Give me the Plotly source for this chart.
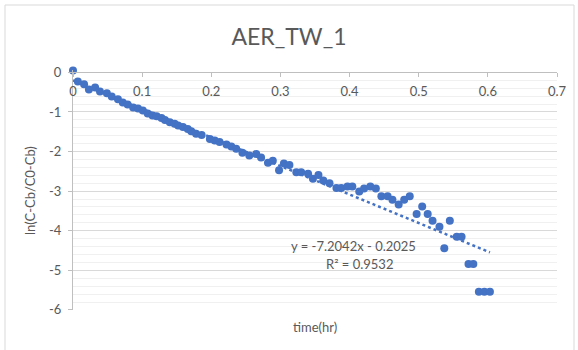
import plotly.graph_objects as go

# ---- data ----
time_hr = [0.000, 0.007, 0.016, 0.023, 0.032, 0.039, 0.049, 0.056, 0.065, 0.072,
           0.079, 0.087, 0.094, 0.101, 0.108, 0.115,
           0.121, 0.128, 0.133, 0.140, 0.147, 0.152, 0.159, 0.166, 0.171, 0.178,
           0.186, 0.198, 0.205, 0.212, 0.222, 0.229,
           0.236, 0.245, 0.255, 0.265, 0.272, 0.282, 0.289, 0.298, 0.305, 0.313,
           0.323, 0.330, 0.340, 0.347, 0.355, 0.362, 0.371, 0.381, 0.388, 0.397,
           0.404, 0.414, 0.421, 0.430, 0.438, 0.446, 0.455, 0.462, 0.471, 0.479,
           0.487, 0.497, 0.505, 0.513, 0.520, 0.530, 0.537, 0.545, 0.555, 0.562,
           0.572, 0.579, 0.587, 0.595, 0.603]
ln_ratio = [0.05, -0.23, -0.30, -0.43, -0.38, -0.48, -0.53, -0.61, -0.68, -0.76,
            -0.81, -0.89, -0.91, -0.96, -1.04, -1.09,
            -1.11, -1.15, -1.20, -1.26, -1.30, -1.34, -1.38, -1.43, -1.49, -1.55,
            -1.58, -1.68, -1.72, -1.76, -1.82, -1.87,
            -1.93, -2.03, -2.10, -2.06, -2.15, -2.28, -2.23, -2.47, -2.30, -2.34,
            -2.52, -2.52, -2.56, -2.69, -2.59, -2.73, -2.80, -2.92, -2.92, -2.88,
            -2.88, -3.01, -2.93, -2.88, -2.93, -3.13, -3.13, -3.22, -3.34, -3.22,
            -3.13, -3.58, -3.39, -3.58, -3.75, -3.90, -4.44, -3.75, -4.15, -4.15,
            -4.84, -4.84, -5.54, -5.54, -5.54]

trend_slope = -7.2042
trend_intercept = -0.2025
trend_r2 = 0.9532

x_tick_vals = [0, 0.1, 0.2, 0.3, 0.4, 0.5, 0.6, 0.7]
x_tick_text = ["0", "0.1", "0.2", "0.3", "0.4", "0.5", "0.6", "0.7"]
y_tick_vals = [0, -1, -2, -3, -4, -5, -6]
y_tick_text = ["0", "-1", "-2", "-3", "-4", "-5", "-6"]

title_text = "AER_TW_1"
x_title = "time(hr)"
y_title = "ln(C-Cb/C0-Cb)"

# ---- figure ----
BLUE = "#4472C4"
GREY_TXT = "#595959"
FONT = "Lato"

Y_MIN, Y_MAX = -6.002, 0.06
M_T, M_B, M_L, M_R = 70, 40, 73, 21
PLOT_H = 350 - M_T - M_B
PLOT_W = 578 - M_L - M_R


def py(px):
    """pixel row -> paper y"""
    return (350 - M_B - px) / PLOT_H


def pxx(px):
    """pixel column -> paper x"""
    return (px - M_L) / PLOT_W


trend_x = [min(time_hr), max(time_hr)]
trend_y = [trend_slope * v + trend_intercept for v in trend_x]

fig = go.Figure()
fig.add_trace(go.Scatter(
    x=time_hr, y=ln_ratio, mode="markers",
    marker=dict(color=BLUE, size=8, line=dict(width=0)),
    cliponaxis=False, showlegend=False, hoverinfo="x+y"))
fig.add_trace(go.Scatter(
    x=trend_x, y=trend_y, mode="lines",
    line=dict(color=BLUE, width=2.5, dash="dot"),
    showlegend=False, hoverinfo="skip"))

eq_text = f"y = {trend_slope:.4f}x - {abs(trend_intercept):.4f}"
r2_text = f"R² = {trend_r2:.4f}"

fig.update_layout(
    width=578, height=350,
    margin=dict(l=M_L, r=M_R, t=M_T, b=M_B),
    paper_bgcolor="white", plot_bgcolor="white",
    font=dict(family=FONT, color=GREY_TXT, size=12),
    title=dict(text=title_text, x=0.5, xref="container", xanchor="center",
               y=1 - 37 / 350, yref="container", yanchor="middle",
               font=dict(family=FONT, size=23, color=GREY_TXT)),
    xaxis=dict(range=[0, 0.7], anchor="free", position=(0 - Y_MIN) / (Y_MAX - Y_MIN),
               side="bottom", tickvals=x_tick_vals, ticktext=x_tick_text,
               ticks="outside", ticklen=4, tickcolor="#BFBFBF", ticklabelstandoff=3,
               showline=True, linecolor="#BFBFBF", linewidth=1,
               showgrid=False, zeroline=False, automargin=False,
               tickfont=dict(size=13, color=GREY_TXT)),
    yaxis=dict(range=[Y_MIN, Y_MAX], tickvals=y_tick_vals, ticktext=y_tick_text,
               ticks="outside", ticklen=4, tickcolor="#BFBFBF", ticklabelstandoff=4,
               showline=True, linecolor="#BFBFBF", linewidth=1, automargin=False,
               showgrid=True, gridcolor="#D9D9D9", gridwidth=1, zeroline=False,
               minor=dict(dtick=0.2, showgrid=True, gridcolor="#F0F0F0", gridwidth=1),
               tickfont=dict(size=13, color=GREY_TXT)),
    annotations=[
        dict(text=eq_text, x=0.405, y=-4.39, xref="x", yref="y", showarrow=False,
             font=dict(size=13, color=GREY_TXT), xanchor="center", yanchor="middle"),
        dict(text=r2_text, x=0.414, y=-4.85, xref="x", yref="y", showarrow=False,
             font=dict(size=13, color=GREY_TXT), xanchor="center", yanchor="middle"),
        dict(text=x_title, x=0.5, y=py(327), xref="paper", yref="paper",
             showarrow=False, font=dict(size=13, color=GREY_TXT),
             xanchor="center", yanchor="middle"),
        dict(text=y_title, x=pxx(30), y=py(191), xref="paper", yref="paper",
             showarrow=False, textangle=-90, font=dict(size=13, color=GREY_TXT),
             xanchor="center", yanchor="middle"),
    ],
    shapes=[dict(type="rect", xref="paper", yref="paper",
                 x0=pxx(5), x1=pxx(574), y0=py(360), y1=py(5),
                 line=dict(color="#D9D9D9", width=1), layer="below")],
)

fig.write_html("out.html", config={"displayModeBar": False},
               post_script="document.body.style.margin='0';")
